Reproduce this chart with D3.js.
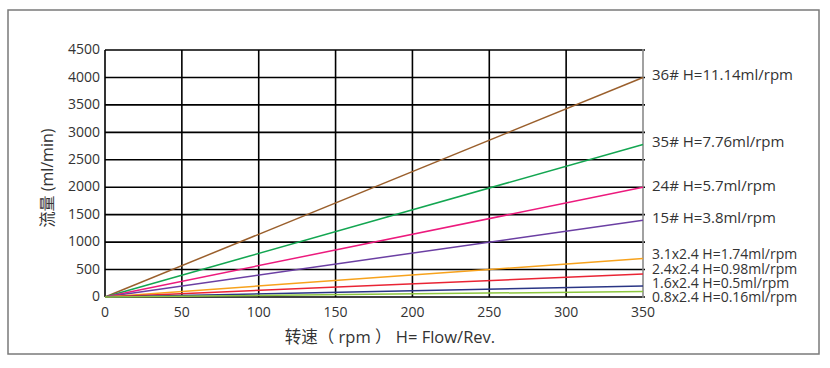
<!DOCTYPE html>
<html><head><meta charset="utf-8">
<script src="https://cdn.jsdelivr.net/npm/d3@7"></script>
<style>
body{margin:0;background:#fff;}
svg{display:block;font-family:"Open Sans","Noto Sans CJK SC",sans-serif;}
</style></head>
<body><svg id="c" width="830" height="368"></svg>
<script>
const seriesNames = ["36# H=11.14ml/rpm","35# H=7.76ml/rpm","24# H=5.7ml/rpm","15# H=3.8ml/rpm","3.1x2.4 H=1.74ml/rpm","2.4x2.4 H=0.98ml/rpm","1.6x2.4 H=0.5ml/rpm","0.8x2.4 H=0.16ml/rpm"];
const rpmPoints = [0, 350];
const seriesEnd = [4000, 2780, 2000, 1400, 700, 420, 200, 100];
const seriesColors = ["#9a5f2c","#13a651","#ec1a7d","#6b3fa3","#f7a21c","#e92434","#2a3585","#8dc63f"];
const labelY = [75, 142, 186, 218, 254, 269, 283, 297];
const xTicks = [0,50,100,150,200,250,300,350];
const yTicks = [0,500,1000,1500,2000,2500,3000,3500,4000,4500];

const svg = d3.select("#c");
svg.append("rect").attr("x",8).attr("y",10).attr("width",811).attr("height",344)
  .attr("fill","none").attr("stroke","#7a7a7a").attr("stroke-width",1.5);

const x = d3.scaleLinear().domain([0,350]).range([105,643]);
const y = d3.scaleLinear().domain([0,4500]).range([297,50]);

// grid
const g = svg.append("g");
g.selectAll("line.h").data(yTicks).join("line")
  .attr("x1",x(0)).attr("x2",x(350)+2).attr("y1",d=>y(d)).attr("y2",d=>y(d))
  .attr("stroke","#000").attr("stroke-width",1.6);
g.selectAll("line.v").data(xTicks.filter(d=>d<350)).join("line")
  .attr("x1",d=>x(d)).attr("x2",d=>x(d)).attr("y1",y(4500)).attr("y2",y(0))
  .attr("stroke","#000").attr("stroke-width",1.6);
g.append("line").attr("x1",x(350)).attr("x2",x(350)).attr("y1",y(4500)-1).attr("y2",y(0)+1)
  .attr("stroke","#8a8a8a").attr("stroke-width",1.6);

// axes labels
svg.selectAll("text.yt").data(yTicks).join("text").attr("class","yt")
  .attr("x",100).attr("y",d=>y(d)).attr("dy","0.3em").attr("text-anchor","end")
  .attr("font-size",14).attr("fill","#333").text(d=>d);
svg.selectAll("text.xt").data(xTicks).join("text").attr("class","xt")
  .attr("x",d=>x(d)).attr("y",317).attr("text-anchor","middle")
  .attr("font-size",14).attr("fill","#333").text(d=>d);

svg.append("text").attr("x",390).attr("y",343).attr("text-anchor","middle")
  .attr("font-size",16.5).attr("fill","#333").text("转速（ rpm ） H= Flow/Rev.");
svg.append("text").attr("transform","translate(53,178) rotate(-90)").attr("text-anchor","middle")
  .attr("font-size",16).attr("fill","#333").text("流量 (ml/min)");

// lines
const line = d3.line().x(d=>x(d[0])).y(d=>y(d[1]));
seriesEnd.forEach((v,i)=>{
  const pts = rpmPoints.map(r=>[r, v*r/350]);
  svg.append("path").attr("d",line(pts)).attr("fill","none")
    .attr("stroke",seriesColors[i]).attr("stroke-width",1.5);
  svg.append("text").attr("x",652).attr("y",labelY[i]).attr("dy","0.35em")
    .attr("font-size",i<4?15:14).attr("fill","#333").text(seriesNames[i]);
});
</script></body></html>
